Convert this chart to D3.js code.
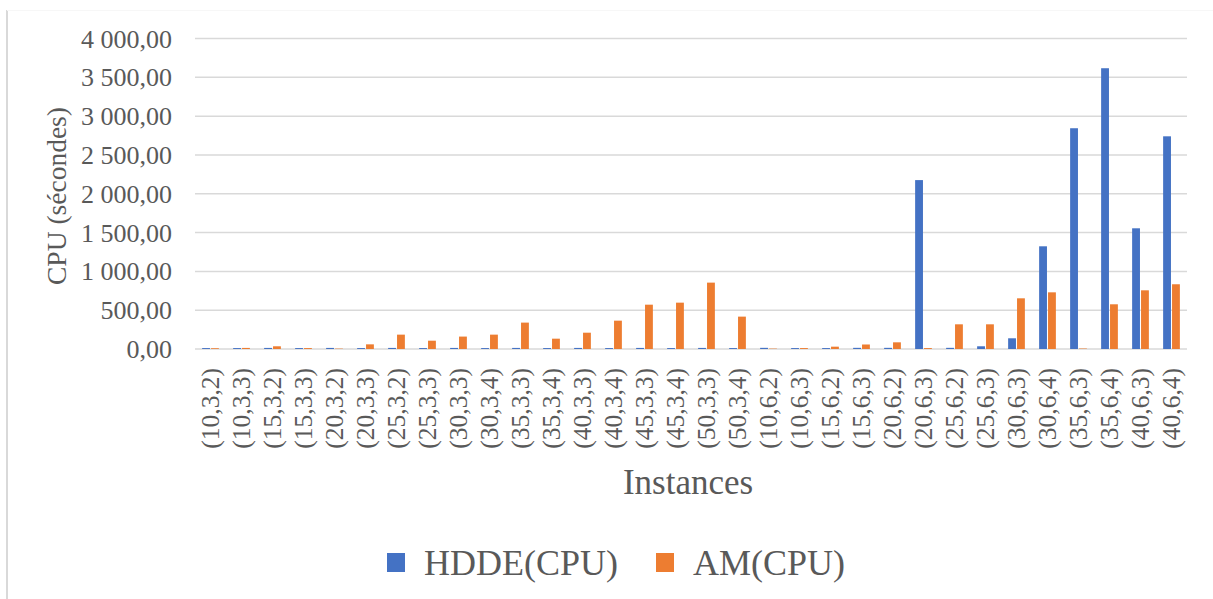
<!DOCTYPE html>
<html>
<head>
<meta charset="utf-8">
<script src="https://cdn.jsdelivr.net/npm/d3@7"></script>
<style>
  body { margin: 0; background: #fff; }
  text { font-family: "Liberation Serif", "Times New Roman", serif; fill: #595959; }
</style>
</head>
<body>
<svg id="chart" width="1213" height="599"></svg>
<script>
const instances = ["(10,3,2)", "(10,3,3)", "(15,3,2)", "(15,3,3)", "(20,3,2)", "(20,3,3)",
    "(25,3,2)", "(25,3,3)", "(30,3,3)", "(30,3,4)", "(35,3,3)", "(35,3,4)", "(40,3,3)",
    "(40,3,4)", "(45,3,3)", "(45,3,4)", "(50,3,3)", "(50,3,4)", "(10,6,2)", "(10,6,3)",
    "(15,6,2)", "(15,6,3)", "(20,6,2)", "(20,6,3)", "(25,6,2)", "(25,6,3)", "(30,6,3)",
    "(30,6,4)", "(35,6,3)", "(35,6,4)", "(40,6,3)", "(40,6,4)"];

const hdde = [12, 12, 14, 12, 14, 12, 14, 12, 14, 12, 14, 12, 14, 12, 14, 12, 14, 12,
    15, 12, 12, 15, 15, 2176, 15, 35, 138, 1323, 2844, 3617, 1555, 2740];

const am = [10, 14, 35, 12, 5, 60, 185, 107, 160, 185, 340, 133, 210, 365, 571, 597, 855, 417,
    5, 12, 30, 58, 86, 12, 318, 318, 653, 730, 6, 576, 756, 834];

const yTicks = [0, 500, 1000, 1500, 2000, 2500, 3000, 3500, 4000];
const seriesNames = ["HDDE(CPU)", "AM(CPU)"];
const colors = ["#4472C4", "#ED7D31"];

const svg = d3.select("#chart");
const margin = {left: 195, right: 26, top: 38.5, bottom: 250};
const width = 1213, height = 599;

const rows = instances.map(function (d, i) {
    return {name: d, values: [hdde[i], am[i]]};
});

// outer border (only left edge and a faint top edge visible)
svg.append("line")
    .attr("x1", 7).attr("x2", 7)
    .attr("y1", 10).attr("y2", height)
    .attr("stroke", "#d9d9d9")
    .attr("stroke-width", 2);
svg.append("line")
    .attr("x1", 7).attr("x2", width)
    .attr("y1", 10.5).attr("y2", 10.5)
    .attr("stroke", "#f7f7f7")
    .attr("stroke-width", 1);

const xScale = d3.scaleBand()
    .domain(instances)
    .range([margin.left, width - margin.right])
    .paddingInner(0.46)
    .paddingOuter(0.23);

const x1 = d3.scaleBand()
    .domain([0, 1])
    .range([0, xScale.bandwidth()])
    .paddingInner(0.12);

const yScale = d3.scaleLinear()
    .domain([0, 4000])
    .range([349, margin.top]);

// gridlines
svg.append("g")
    .selectAll("line")
    .data(yTicks)
    .enter().append("line")
    .attr("x1", margin.left)
    .attr("x2", width - margin.right)
    .attr("y1", function (d) { return yScale(d); })
    .attr("y2", function (d) { return yScale(d); })
    .attr("stroke", "#d9d9d9")
    .attr("stroke-width", 1.5);

// bars
const groups = svg.append("g")
    .selectAll("g")
    .data(rows)
    .enter().append("g")
    .attr("transform", function (d) { return "translate(" + xScale(d.name) + ",0)"; });

groups.selectAll("rect")
    .data(function (d) { return d.values; })
    .enter().append("rect")
    .attr("x", function (d, i) { return x1(i); })
    .attr("width", x1.bandwidth())
    .attr("y", function (d) { return yScale(d); })
    .attr("height", function (d) { return yScale(0) - yScale(d); })
    .attr("fill", function (d, i) { return colors[i]; });

// y axis labels
const fmt = function (v) {
    return d3.format(",.2f")(v).replace(",", " ").replace(".", ",");
};
const yAxis = d3.axisLeft(yScale)
    .tickValues(yTicks)
    .tickSize(0)
    .tickPadding(0)
    .tickFormat(fmt);

const yG = svg.append("g")
    .attr("transform", "translate(172,0)")
    .call(yAxis);
yG.select(".domain").remove();
yG.selectAll("text")
    .attr("font-size", 26)
    .attr("font-family", null)
    .attr("dy", "0.33em");

// x axis labels
const xAxis = d3.axisBottom(xScale).tickSize(0).tickPadding(0);
const xG = svg.append("g")
    .attr("transform", "translate(0,368)")
    .call(xAxis);
xG.select(".domain").remove();
xG.selectAll("text")
    .attr("font-size", 25.5)
    .attr("font-family", null)
    .attr("transform", "rotate(-90)")
    .attr("text-anchor", "end")
    .attr("x", 0)
    .attr("y", 0)
    .attr("dy", "0.33em");

// axis titles
svg.append("text")
    .attr("transform", "translate(57,196) rotate(-90)")
    .attr("text-anchor", "middle")
    .attr("dy", "0.33em")
    .attr("font-size", 27.5)
    .text("CPU (sécondes)");

svg.append("text")
    .attr("x", 688)
    .attr("y", 494)
    .attr("text-anchor", "middle")
    .attr("font-size", 35)
    .text("Instances");

// legend
const legendX = [387, 656];
const legend = svg.append("g")
    .selectAll("g")
    .data(seriesNames)
    .enter().append("g")
    .attr("transform", function (d, i) { return "translate(" + legendX[i] + ",553)"; });

legend.append("rect")
    .attr("width", 18)
    .attr("height", 19)
    .attr("fill", function (d, i) { return colors[i]; });

legend.append("text")
    .attr("x", 37)
    .attr("y", 22)
    .attr("font-size", 36)
    .text(function (d) { return d; });
</script>
</body>
</html>
